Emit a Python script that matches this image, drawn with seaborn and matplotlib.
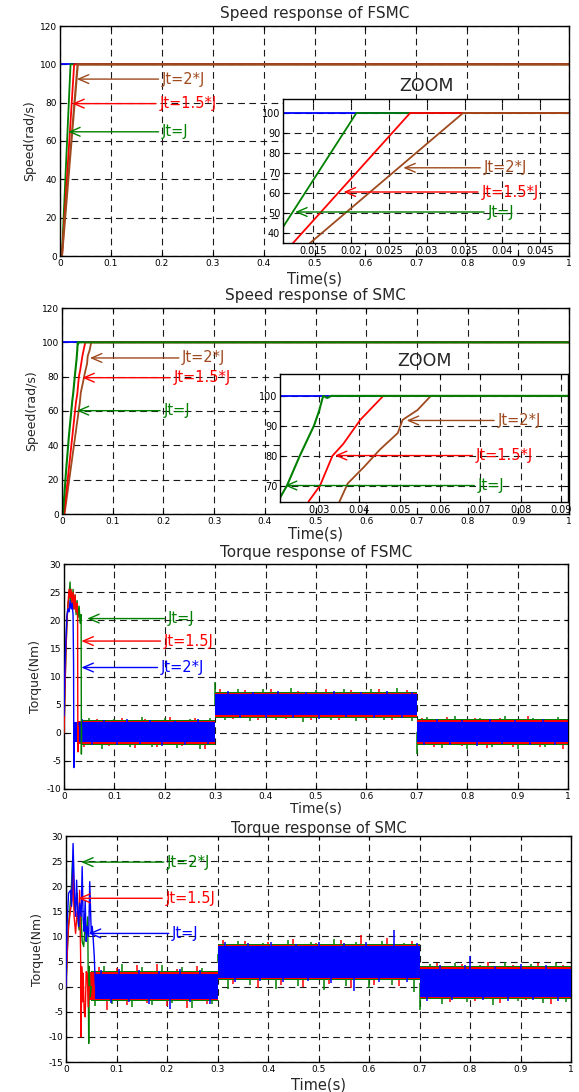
import numpy as np
import matplotlib
matplotlib.use('Agg')
import matplotlib.pyplot as plt
import seaborn as sns

# ------------------------------------------------------------------ data
time_ticks = [0, 0.1, 0.2, 0.3, 0.4, 0.5, 0.6, 0.7, 0.8, 0.9, 1.0]
time_tick_labels = ['0', '0.1', '0.2', '0.3', '0.4', '0.5', '0.6', '0.7', '0.8', '0.9', '1']
speed_ticks = [0, 20, 40, 60, 80, 100, 120]
torque_ticks_fsmc = [-10, -5, 0, 5, 10, 15, 20, 25, 30]
torque_ticks_smc = [-15, -10, -5, 0, 5, 10, 15, 20, 25, 30]

zoom1_xticks = [0.015, 0.02, 0.025, 0.03, 0.035, 0.04, 0.045]
zoom1_xlabels = ['0.015', '0.02', '0.025', '0.03', '0.035', '0.04', '0.045']
zoom1_yticks = [40, 50, 60, 70, 80, 90, 100]
zoom2_xticks = [0.03, 0.04, 0.05, 0.06, 0.07, 0.08, 0.09]
zoom2_xlabels = ['0.03', '0.04', '0.05', '0.06', '0.07', '0.08', '0.09']
zoom2_yticks = [70, 80, 90, 100]

ref_t = [0.0, 1.0]
ref_speed = [100, 100]

# FSMC speed
fsmc_w_J_t = [0, 0.0037, 0.0207, 1.0]
fsmc_w_J = [0, 0, 100, 100]
fsmc_w_15J_t = [0, 0.0040, 0.0278, 1.0]
fsmc_w_15J = [0, 0, 100, 100]
fsmc_w_2J_t = [0, 0.0037, 0.0348, 1.0]
fsmc_w_2J = [0, 0, 100, 100]

# SMC speed
smc_w_J_t = [0, 0.002, 0.008, 0.0135, 0.0203, 0.022, 0.0252, 0.0287, 0.030, 0.031, 0.032, 0.033, 1.0]
smc_w_J = [0, 0, 25, 45, 66, 70, 80, 90, 95, 100, 99.3, 100, 100]
smc_w_15J_t = [0, 0.004, 0.0275, 0.0302, 0.0333, 0.036, 0.0402, 0.0459, 1.0]
smc_w_15J = [0, 0, 65, 70, 80, 84, 92, 100, 100]
smc_w_2J_t = [0, 0.005, 0.035, 0.0371, 0.0412, 0.045, 0.0495, 0.0507, 0.0544, 0.0577, 1.0]
smc_w_2J = [0, 0, 64.6, 70.8, 76.4, 82.0, 87.6, 92, 95.3, 100, 100]

# FSMC torque transients
fsmc_tq_green_t = [0, 0.002, 0.004, 0.006, 0.008, 0.010, 0.012, 0.013, 0.014, 0.016, 0.018, 0.020,
                   0.022, 0.024, 0.026, 0.028, 0.030, 0.032, 0.034, 0.0345, 0.035]
fsmc_tq_green = [0, 8, 15, 20, 23, 24, 26.8, 23.5, 25, 22.5, 25.5, 22, 24.5, 21, 23.5, 20.5, 22.5,
                 19.5, 21, -3.8, 1.0]
fsmc_tq_red_t = [0, 0.002, 0.004, 0.006, 0.008, 0.010, 0.012, 0.014, 0.016, 0.018, 0.020, 0.022,
                 0.024, 0.026, 0.027, 0.0275, 0.028]
fsmc_tq_red = [0, 8, 15, 20, 23, 25.5, 24, 25.5, 23, 25, 22, 24.5, 21.5, 23, 20.5, -3.4, 1.0]
fsmc_tq_blue_t = [0, 0.001, 0.002, 0.004, 0.006, 0.008, 0.010, 0.012, 0.014, 0.016, 0.018, 0.019,
                  0.0195, 0.020]
fsmc_tq_blue = [3, 8, 12, 17, 21, 22, 21.5, 23.5, 22, 23, 21, 12, -6.2, 1.0]

# SMC torque transients
smc_tq_green_t = [0, 0.003, 0.005, 0.008, 0.010, 0.013, 0.015, 0.017, 0.020, 0.022, 0.024, 0.026,
                  0.028, 0.030, 0.032, 0.035, 0.038, 0.040, 0.043, 0.045, 0.046, 0.048, 0.050]
smc_tq_green = [0, 8, 12, 16, 18.6, 25.2, 19, 15.3, 17, 18.6, 13, 11.3, 15, 13.9, 9, 8, 12, 10.6,
                13.9, -11.3, 4, -2, 0]
smc_tq_red_t = [0, 0.003, 0.005, 0.009, 0.012, 0.014, 0.016, 0.019, 0.022, 0.025, 0.027, 0.029,
                0.030, 0.031, 0.033, 0.034, 0.036, 0.038, 0.040, 0.042, 0.044, 0.046]
smc_tq_red = [0, 8, 12, 15.3, 17.2, 25.9, 14, 10.6, 15, 13, 19.2, 6, -10, 4, -3, 2.7, -5, -6, 3,
              2.7, -4, 0]
smc_tq_blue_t = [0, 0.002, 0.005, 0.009, 0.011, 0.014, 0.017, 0.019, 0.021, 0.023, 0.025, 0.027,
                 0.030, 0.032, 0.034, 0.036, 0.038, 0.040, 0.042, 0.045, 0.047, 0.050, 0.052,
                 0.054, 0.056, 0.058]
smc_tq_blue = [0, 12, 18.6, 19.2, 16, 28.5, 17.9, 14, 21.2, 15.3, 12, 16.6, 14, 23.9, 13.3, 11,
               17.2, 9, 12, 10, 20.9, 10.6, 12, 9.3, 6, 0.3]

# load steps and noise band (per segment: before 0.3, 0.3-0.7, after 0.7)
load_switch_t = [0.3, 0.7]
fsmc_level = [0.1, 5.0, 0.15]
fsmc_blue_upper = [1.9, 6.9, 2.0]
fsmc_blue_lower = [-1.7, 3.1, -1.7]
fsmc_red_upper = [2.15, 7.15, 2.25]
fsmc_red_lower = [-1.95, 2.85, -1.95]
fsmc_green_upper = [2.3, 7.3, 2.4]
fsmc_green_lower = [-2.1, 2.7, -2.1]
smc_level = [0.0, 4.9, 0.8]
smc_blue_upper = [2.6, 8.0, 3.6]
smc_blue_lower = [-2.5, 1.7, -2.0]
smc_red_upper = [2.85, 8.25, 3.85]
smc_red_lower = [-2.75, 1.45, -2.25]
smc_green_upper = [3.05, 8.45, 4.05]
smc_green_lower = [-2.95, 1.25, -2.45]

# noise spikes (time, tip value)
fsmc_red_spk_t = [0.04, 0.065, 0.09, 0.115, 0.14, 0.16, 0.185, 0.21, 0.235, 0.26, 0.28, 0.31, 0.335,
                  0.36, 0.385, 0.41, 0.44, 0.465, 0.49, 0.52, 0.545, 0.57, 0.6, 0.625, 0.65, 0.68,
                  0.71, 0.735, 0.76, 0.79, 0.815, 0.84, 0.865, 0.89, 0.92, 0.945, 0.97, 0.99]
fsmc_red_spk = [-2.6, 2.5, -2.4, 2.7, -2.7, 2.5, -2.5, 2.8, -2.4, 2.6, -2.8, 7.7, 2.4, 7.6, 2.3, 7.8,
                2.4, 7.5, 2.2, 7.7, 2.3, 7.6, 2.3, 7.8, 2.2, 7.6, 2.6, -2.6, 2.8, -2.4, 2.7, -2.7,
                2.6, -2.5, 2.9, -2.6, 2.5, -2.8]
fsmc_green_spk_t = [0.05, 0.075, 0.1, 0.13, 0.155, 0.175, 0.2, 0.225, 0.25, 0.27, 0.29, 0.3, 0.32,
                    0.345, 0.37, 0.395, 0.42, 0.45, 0.475, 0.5, 0.53, 0.555, 0.58, 0.61, 0.635,
                    0.66, 0.69, 0.7, 0.72, 0.75, 0.775, 0.8, 0.825, 0.85, 0.875, 0.9, 0.93, 0.955,
                    0.98]
fsmc_green_spk = [2.6, -2.9, 2.5, -2.6, 2.8, -2.5, 2.6, -2.7, 2.5, -2.9, 2.6, 9.0, 2.2, 7.8, 2.1,
                  7.7, 2.2, 8.0, 2.0, 7.6, 2.2, 7.8, 2.1, 7.7, 2.2, 7.9, 2.1, -3.8, 2.8, -2.7, 2.9,
                  -2.8, 2.6, -2.6, 2.9, -2.9, 2.7, -2.6, 2.8]
fsmc_blue_spk_t = [0.035, 0.055, 0.08, 0.105, 0.125, 0.15, 0.17, 0.195, 0.22, 0.24, 0.265, 0.285,
                   0.325, 0.35, 0.375, 0.4, 0.425, 0.455, 0.48, 0.505, 0.535, 0.56, 0.59, 0.615,
                   0.64, 0.67, 0.69, 0.715, 0.74, 0.765, 0.79, 0.82, 0.845, 0.87, 0.895, 0.925,
                   0.95, 0.975]
fsmc_blue_spk = [2.4, -2.1, 2.2, -2.2, 2.5, -2.0, 2.3, -2.3, 2.1, -2.2, 2.4, -2.0, 7.4, 2.7, 7.3,
                 2.6, 7.5, 2.7, 7.2, 2.5, 7.4, 2.8, 7.3, 2.6, 7.5, 2.7, 7.2, -2.1, 2.5, -2.2, 2.3,
                 -2.3, 2.4, -2.0, 2.3, -2.2, 2.5, -2.1]

smc_red_spk_t = [0.065, 0.082, 0.1, 0.12, 0.14, 0.16, 0.18, 0.2, 0.22, 0.24, 0.26, 0.28, 0.31, 0.33,
                 0.355, 0.38, 0.4, 0.425, 0.45, 0.47, 0.495, 0.52, 0.545, 0.565, 0.585, 0.61,
                 0.635, 0.66, 0.685, 0.71, 0.735, 0.76, 0.785, 0.81, 0.835, 0.86, 0.885, 0.91,
                 0.935, 0.96, 0.985]
smc_red_spk = [4.0, -4.7, 3.8, -3.6, 4.3, -3.2, 4.6, -3.8, 3.5, -4.2, 4.1, -3.5, 9.2, 0.5, 9.0,
               -0.2, 8.8, 0.4, 9.5, 0.0, 8.7, 0.6, 9.3, -0.3, 10.3, 0.4, 9.6, 0.2, 9.1, -1.5, 4.8,
               -3.0, 4.5, -2.8, 4.9, -3.2, 4.4, -2.6, 4.7, -3.4, 4.3]
smc_green_spk_t = [0.058, 0.075, 0.092, 0.11, 0.13, 0.15, 0.17, 0.19, 0.21, 0.23, 0.25, 0.27, 0.29,
                   0.3, 0.32, 0.34, 0.365, 0.39, 0.415, 0.44, 0.46, 0.485, 0.51, 0.53, 0.555,
                   0.575, 0.6, 0.625, 0.645, 0.67, 0.69, 0.7, 0.72, 0.745, 0.77, 0.795, 0.82, 0.845,
                   0.87, 0.895, 0.92, 0.945, 0.97, 0.99]
smc_green_spk = [-3.8, 4.2, -3.4, 4.5, -4.0, 3.9, -3.6, 4.4, -3.3, 4.0, -4.3, 3.7, -3.5, 6.5, -0.5,
                 9.0, 0.3, 8.6, -0.4, 9.2, 0.2, 8.9, -0.6, 9.4, 0.1, 8.8, -0.2, 9.1, 0.3, 8.7, -1.0,
                 -4.7, 4.6, -3.4, 4.8, -3.1, 4.4, -3.6, 4.9, -2.9, 4.5, -3.3, 4.7, -3.0]
smc_blue_spk_t = [0.07, 0.09, 0.105, 0.125, 0.145, 0.165, 0.185, 0.205, 0.225, 0.245, 0.265, 0.285,
                  0.315, 0.335, 0.36, 0.385, 0.405, 0.43, 0.455, 0.48, 0.5, 0.525, 0.55, 0.57,
                  0.595, 0.62, 0.65, 0.675, 0.695, 0.715, 0.74, 0.765, 0.79, 0.8, 0.825, 0.85,
                  0.875, 0.9, 0.925, 0.95, 0.975]
smc_blue_spk = [3.3, -3.2, 3.6, -3.0, 3.4, -3.5, 3.1, -4.4, 3.5, -3.1, 3.3, -3.4, 8.8, 1.0, 8.6, 1.2,
                8.9, 0.9, 8.5, 1.1, 8.8, 0.8, 8.7, -0.8, 8.9, 1.0, 11.2, 0.9, 8.6, -2.8, 4.3, -2.7,
                4.4, 6.1, -2.6, 4.2, -2.9, 4.5, -2.7, 4.3, -2.8]

# ------------------------------------------------------------------ style
sns.set_theme(style='ticks')
plt.rcParams['font.family'] = ['DejaVu Sans']
plt.rcParams['axes.unicode_minus'] = False

GREEN = '#008000'
RED = '#FF0000'
BLUE = '#0000FF'
BROWN = '#9E4A1E'
GRID = '#1a1a1a'

W, H = 579, 1092
fig = plt.figure(figsize=(W / 100, H / 100), dpi=100)
fig.patch.set_facecolor('white')


def rect(l, t, r, b):
    return [l / W, 1 - b / H, (r - l) / W, (b - t) / H]


def style(ax, xticks, xlabels, yticks, xlim, ylim, lsize=6.5):
    ax.set_facecolor('white')
    ax.set_xlim(*xlim)
    ax.set_ylim(*ylim)
    ax.set_xticks(xticks)
    ax.set_xticklabels(xlabels)
    ax.set_yticks(yticks)
    ax.set_yticklabels([str(v) for v in yticks])
    ax.tick_params(direction='in', top=True, right=True, length=3, width=0.8,
                   labelsize=lsize, pad=2, colors='black')
    ax.grid(True, color=GRID, linestyle=(0, (6, 4)), linewidth=0.8)
    ax.set_axisbelow(True)
    for s in ax.spines.values():
        s.set_visible(True)
        s.set_linewidth(1.0)
        s.set_color('black')
    ax.set_xlabel('')
    ax.set_ylabel('')


def line(ax, t, y, color, lw=1.3, z=2):
    sns.lineplot(x=t, y=y, ax=ax, color=color, lw=lw, estimator=None, sort=False,
                 zorder=z, legend=False)


def arrow(ax, label, head_t, text_t, y, color, fs=10.5):
    ax.annotate(label, xy=(head_t, y), xytext=(text_t, y), color=color, fontsize=fs,
                ha='left', va='center', zorder=6,
                arrowprops=dict(arrowstyle='->,head_length=0.7,head_width=0.3', color=color,
                                lw=1.0, shrinkA=0, shrinkB=0))


def segment_value(t, vals):
    idx = np.searchsorted(load_switch_t, np.asarray(t), side='right')
    return np.asarray(vals)[idx]


def band(ax, start, upper, lower, color, z):
    x = [start, load_switch_t[0], load_switch_t[0], load_switch_t[1], load_switch_t[1], 1.0]
    hi = [upper[0], upper[0], upper[1], upper[1], upper[2], upper[2]]
    lo = [lower[0], lower[0], lower[1], lower[1], lower[2], lower[2]]
    ax.fill_between(x, lo, hi, color=color, lw=0, zorder=z)


def spikes(ax, t, tips, levels, color, z, lw=1.1):
    base = segment_value(t, levels)
    ax.vlines(t, base, tips, color=color, lw=lw, zorder=z)


# ------------------------------------------------------------------ panel 1
ax1 = fig.add_axes(rect(60, 26, 569, 256))
line(ax1, ref_t, ref_speed, BLUE)
line(ax1, fsmc_w_J_t, fsmc_w_J, GREEN)
line(ax1, fsmc_w_15J_t, fsmc_w_15J, RED)
line(ax1, fsmc_w_2J_t, fsmc_w_2J, BROWN, lw=1.6)
style(ax1, time_ticks, time_tick_labels, speed_ticks, (0, 1), (0, 120))
ax1.set_title('Speed response of FSMC', fontsize=11, pad=6)
ax1.set_xlabel('Time(s)', fontsize=10.5, labelpad=2.5)
ax1.set_ylabel('Speed(rad/s)', fontsize=9, labelpad=3)
arrow(ax1, 'Jt=2*J', 0.033, 0.2, 92.3, BROWN)
arrow(ax1, 'Jt=1.5*J', 0.024, 0.195, 79.5, RED)
arrow(ax1, 'Jt=J', 0.016, 0.2, 64.8, GREEN)

in1 = fig.add_axes(rect(283, 99, 569, 243))
line(in1, ref_t, ref_speed, BLUE)
line(in1, fsmc_w_J_t, fsmc_w_J, GREEN)
line(in1, fsmc_w_15J_t, fsmc_w_15J, RED)
line(in1, fsmc_w_2J_t, fsmc_w_2J, BROWN)
style(in1, zoom1_xticks, zoom1_xlabels, zoom1_yticks, (0.011, 0.0488), (35, 107), lsize=7)
in1.set_title('ZOOM', fontsize=12.5, pad=6)
arrow(in1, 'Jt=2*J', 0.0269, 0.0375, 72.6, BROWN)
arrow(in1, 'Jt=1.5*J', 0.019, 0.0372, 60.5, RED)
arrow(in1, 'Jt=J', 0.0126, 0.038, 50.5, GREEN)

# ------------------------------------------------------------------ panel 2
ax2 = fig.add_axes(rect(62, 308, 569, 514))
line(ax2, ref_t, ref_speed, BLUE)
line(ax2, smc_w_2J_t, smc_w_2J, BROWN)
line(ax2, smc_w_15J_t, smc_w_15J, RED)
line(ax2, smc_w_J_t, smc_w_J, GREEN, lw=1.5)
style(ax2, time_ticks, time_tick_labels, speed_ticks, (0, 1), (0, 120))
ax2.set_title('Speed response of SMC', fontsize=11, pad=5.5)
ax2.set_xlabel('Time(s)', fontsize=10.5, labelpad=0.5)
ax2.set_ylabel('Speed(rad/s)', fontsize=9, labelpad=3)
arrow(ax2, 'Jt=2*J', 0.055, 0.237, 90.9, BROWN)
arrow(ax2, 'Jt=1.5*J', 0.04, 0.22, 79.4, RED)
arrow(ax2, 'Jt=J', 0.029, 0.2, 60.2, GREEN)

in2 = fig.add_axes(rect(280, 374, 568, 502))
line(in2, ref_t, ref_speed, BLUE)
line(in2, smc_w_2J_t, smc_w_2J, BROWN)
line(in2, smc_w_15J_t, smc_w_15J, RED)
line(in2, smc_w_J_t, smc_w_J, GREEN, lw=1.5)
style(in2, zoom2_xticks, zoom2_xlabels, zoom2_yticks, (0.0203, 0.0917), (64.6, 107.3), lsize=7)
in2.set_title('ZOOM', fontsize=12.5, pad=5.5)
arrow(in2, 'Jt=2*J', 0.0517, 0.0742, 91.8, BROWN)
arrow(in2, 'Jt=1.5*J', 0.0339, 0.0688, 80.1, RED)
arrow(in2, 'Jt=J', 0.0215, 0.0693, 70.1, GREEN)

# ------------------------------------------------------------------ panel 3
ax3 = fig.add_axes(rect(64, 564, 568, 789))
spikes(ax3, fsmc_green_spk_t, fsmc_green_spk, fsmc_level, GREEN, 2)
spikes(ax3, fsmc_red_spk_t, fsmc_red_spk, fsmc_level, RED, 2)
band(ax3, fsmc_tq_green_t[-1], fsmc_green_upper, fsmc_green_lower, GREEN, 2)
band(ax3, fsmc_tq_red_t[-1], fsmc_red_upper, fsmc_red_lower, RED, 2)
band(ax3, fsmc_tq_blue_t[-1], fsmc_blue_upper, fsmc_blue_lower, BLUE, 3)
spikes(ax3, fsmc_blue_spk_t, fsmc_blue_spk, fsmc_level, BLUE, 3)
line(ax3, fsmc_tq_green_t, fsmc_tq_green, GREEN, lw=1.0, z=3)
line(ax3, fsmc_tq_red_t, fsmc_tq_red, RED, lw=1.0, z=3)
line(ax3, fsmc_tq_blue_t, fsmc_tq_blue, BLUE, lw=1.0, z=3)
style(ax3, time_ticks, time_tick_labels, torque_ticks_fsmc, (0, 1), (-10, 30))
ax3.set_title('Torque response of FSMC', fontsize=11, pad=5)
ax3.set_xlabel('Time(s)', fontsize=10, labelpad=0.5)
ax3.set_ylabel('Torque(Nm)', fontsize=9, labelpad=3)
arrow(ax3, 'Jt=J', 0.046, 0.206, 20.3, GREEN)
arrow(ax3, 'Jt=1.5J', 0.0345, 0.198, 16.3, RED)
arrow(ax3, 'Jt=2*J', 0.0345, 0.192, 11.6, BLUE)

# ------------------------------------------------------------------ panel 4
ax4 = fig.add_axes(rect(66, 836, 571, 1062))
spikes(ax4, smc_green_spk_t, smc_green_spk, smc_level, GREEN, 2)
spikes(ax4, smc_red_spk_t, smc_red_spk, smc_level, RED, 2)
band(ax4, smc_tq_green_t[-1], smc_green_upper, smc_green_lower, GREEN, 2)
band(ax4, smc_tq_red_t[-1], smc_red_upper, smc_red_lower, RED, 2)
band(ax4, smc_tq_blue_t[-1], smc_blue_upper, smc_blue_lower, BLUE, 3)
spikes(ax4, smc_blue_spk_t, smc_blue_spk, smc_level, BLUE, 3)
line(ax4, smc_tq_green_t, smc_tq_green, GREEN, lw=1.0, z=3)
line(ax4, smc_tq_red_t, smc_tq_red, RED, lw=1.0, z=3)
line(ax4, smc_tq_blue_t, smc_tq_blue, BLUE, lw=1.0, z=3)
style(ax4, time_ticks, time_tick_labels, torque_ticks_smc, (0, 1), (-15, 30))
ax4.set_title('Torque response of SMC', fontsize=10.5, pad=2.5)
ax4.set_xlabel('Time(s)', fontsize=10.5, labelpad=2.5)
ax4.set_ylabel('Torque(Nm)', fontsize=9, labelpad=3)
arrow(ax4, 'Jt=2*J', 0.03, 0.2, 24.8, GREEN)
arrow(ax4, 'Jt=1.5J', 0.024, 0.197, 17.6, RED)
arrow(ax4, 'Jt=J', 0.045, 0.21, 10.6, BLUE)

fig.savefig('out.png', dpi=100, facecolor='white')
